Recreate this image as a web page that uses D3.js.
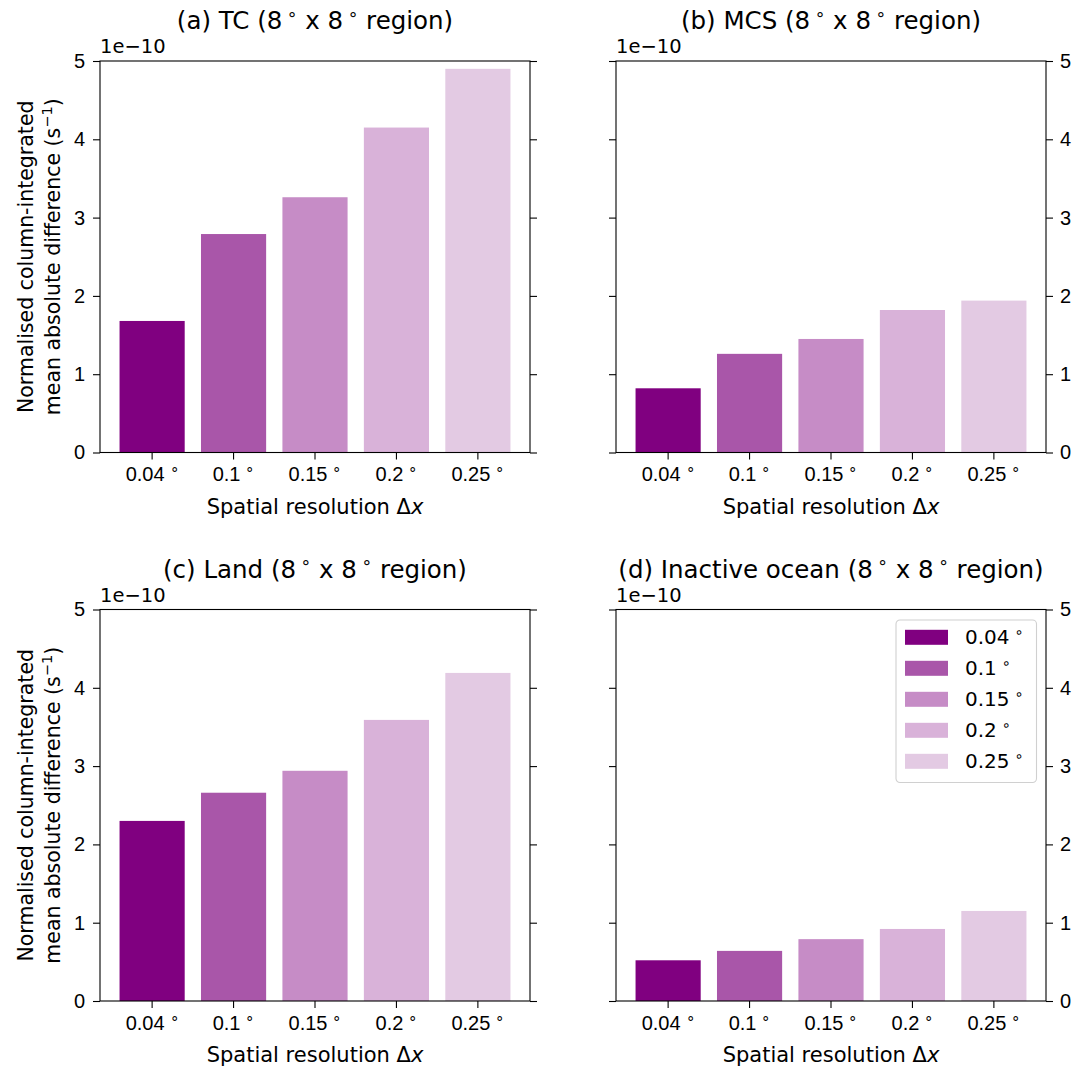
<!DOCTYPE html>
<html>
<head>
<meta charset="utf-8">
<script src="https://cdn.jsdelivr.net/npm/d3@7"></script>
<style>
  body { margin: 0; background: #fff; }
  svg { font-family: "DejaVu Sans", sans-serif; }
</style>
</head>
<body>
<div id="chart"></div>
<script>
// resolutions (degrees)
var resolutions = ["0.04", "0.1", "0.15", "0.2", "0.25"];
var barColors = ["#800080", "#a956a9", "#c68cc6", "#d9b2d9", "#e3cae3"];

// normalised column-integrated mean absolute difference (s^-1)
var tcValues    = [1.68e-10, 2.79e-10, 3.26e-10, 4.15e-10, 4.90e-10];
var mcsValues   = [0.82e-10, 1.26e-10, 1.45e-10, 1.82e-10, 1.94e-10];
var landValues  = [2.30e-10, 2.66e-10, 2.94e-10, 3.59e-10, 4.19e-10];
var oceanValues = [0.52e-10, 0.64e-10, 0.79e-10, 0.92e-10, 1.15e-10];

var yTicks = [0, 1e-10, 2e-10, 3e-10, 4e-10, 5e-10];
var yMax = 5e-10;
var offsetLabel = "1e\u221210";

var panels = [
  { prefix: "(a) TC", values: tcValues, x: 100, y: 61, side: "left", legend: false },
  { prefix: "(b) MCS", values: mcsValues, x: 616, y: 61, side: "right", legend: false },
  { prefix: "(c) Land", values: landValues, x: 100, y: 609.5, side: "left", legend: false },
  { prefix: "(d) Inactive ocean", values: oceanValues, x: 616, y: 609.5, side: "right", legend: true }
];

var svgWidth = 1088;
var svgHeight = 1067;
var plotW = 430;
var plotH = 391.5;

var svg = d3.select("#chart")
  .append("svg")
  .attr("width", svgWidth)
  .attr("height", svgHeight);

// adds a small raised ring after the text, like matplotlib's ^\circ
function addDeg(sel, size, rise, dx) {
  sel.append("tspan").attr("dx", dx).attr("dy", -rise).attr("font-size", size).text("\u2218");
  return sel;
}

function styleAxis(g) {
  g.select(".domain").remove();
  g.selectAll(".tick line").attr("stroke", "#000").attr("stroke-width", 1.1);
  g.selectAll(".tick text").attr("fill", "#000").attr("font-size", 20);
}

panels.forEach(function(p) {
  var chartGroup = svg.append("g")
    .attr("transform", `translate(${p.x}, ${p.y})`);

  var xScale = d3.scaleBand()
    .domain(resolutions)
    .range([0, plotW])
    .paddingInner(0.2)
    .paddingOuter(0.24);

  var yScale = d3.scaleLinear()
    .domain([0, yMax])
    .range([plotH, 0]);

  // bars
  chartGroup.append("g")
    .selectAll("rect")
    .data(p.values)
    .enter()
    .append("rect")
    .attr("x", (d, i) => xScale(resolutions[i]))
    .attr("width", xScale.bandwidth())
    .attr("y", d => yScale(d))
    .attr("height", d => plotH - yScale(d))
    .attr("fill", (d, i) => barColors[i]);

  // x axis
  var xAxis = chartGroup.append("g")
    .attr("transform", `translate(0, ${plotH})`)
    .call(d3.axisBottom(xScale).tickSize(7).tickPadding(7.5));
  styleAxis(xAxis);
  xAxis.selectAll(".tick text").each(function(d) {
    var t = d3.select(this);
    t.text(d);
    addDeg(t, 14.5, 7, 5);
  });

  // y axes, both sides
  var fmt = d => d3.format("d")(Math.round(d / 1e-10));
  var leftAxis = chartGroup.append("g")
    .call(d3.axisLeft(yScale).tickValues(yTicks).tickSize(7).tickPadding(8).tickFormat(fmt));
  var rightAxis = chartGroup.append("g")
    .attr("transform", `translate(${plotW}, 0)`)
    .call(d3.axisRight(yScale).tickValues(yTicks).tickSize(7).tickPadding(7).tickFormat(fmt));
  styleAxis(leftAxis);
  styleAxis(rightAxis);
  if (p.side === "left") rightAxis.selectAll(".tick text").remove();
  else leftAxis.selectAll(".tick text").remove();

  // frame
  chartGroup.append("rect")
    .attr("width", plotW)
    .attr("height", plotH)
    .attr("fill", "none")
    .attr("stroke", "#000")
    .attr("stroke-width", 1.1);

  // offset text
  chartGroup.append("text")
    .attr("x", 0)
    .attr("y", -8)
    .attr("font-size", 19.5)
    .text(offsetLabel);

  // title
  var title = chartGroup.append("text")
    .attr("x", plotW / 2)
    .attr("y", -32)
    .attr("text-anchor", "middle")
    .attr("font-size", 24.5);
  title.append("tspan").text(p.prefix + " (8");
  addDeg(title, 17, 9.5, 4.5);
  title.append("tspan").attr("dy", 9.5).text(" x 8");
  addDeg(title, 17, 9.5, 4.5);
  title.append("tspan").attr("dy", 9.5).text(" region)");

  // x label
  var xl = chartGroup.append("text")
    .attr("x", plotW / 2)
    .attr("y", plotH + 61)
    .attr("text-anchor", "middle")
    .attr("font-size", 21);
  xl.append("tspan").text("Spatial resolution \u0394");
  xl.append("tspan").attr("font-style", "italic").text("x");

  // y label
  if (p.side === "left") {
    var yl = chartGroup.append("text")
      .attr("transform", `translate(-67, ${plotH / 2}) rotate(-90)`)
      .attr("text-anchor", "middle")
      .attr("font-size", 20.5);
    yl.append("tspan").attr("x", 0).attr("dy", 0).text("Normalised column-integrated");
    yl.append("tspan").attr("x", 0).attr("dy", 27).text("mean absolute difference (s");
    yl.append("tspan").attr("dy", -8).attr("font-size", 14.5).text("\u22121");
    yl.append("tspan").attr("dy", 8).text(")");
  }

  // legend
  if (p.legend) {
    var legend = chartGroup.append("g")
      .attr("transform", `translate(${896 - p.x}, ${620 - p.y})`);
    legend.append("rect")
      .attr("width", 140.5)
      .attr("height", 162.5)
      .attr("rx", 4)
      .attr("fill", "#fff")
      .attr("fill-opacity", 0.8)
      .attr("stroke", "#d0d0d0")
      .attr("stroke-width", 1.1);
    var rows = legend.selectAll(".row")
      .data(resolutions)
      .enter()
      .append("g")
      .attr("transform", (d, i) => `translate(9, ${17.3 + i * 31})`);
    rows.append("rect")
      .attr("y", -7.5)
      .attr("width", 43)
      .attr("height", 15)
      .attr("fill", (d, i) => barColors[i]);
    rows.append("text")
      .attr("x", 60)
      .attr("dy", "0.35em")
      .attr("font-size", 20)
      .each(function(d) {
        var t = d3.select(this);
        t.text(d);
        addDeg(t, 14.5, 7, 5);
      });
  }
});
</script>
</body>
</html>
